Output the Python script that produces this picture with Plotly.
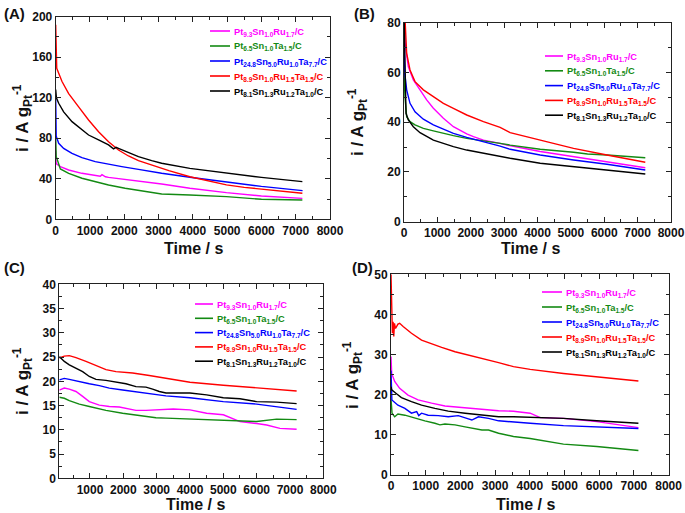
import plotly.graph_objects as go

# ---------------- data ----------------
NAMES = ["Pt<sub>9.3</sub>Sn<sub>1.0</sub>Ru<sub>1.7</sub>/C",
         "Pt<sub>6.5</sub>Sn<sub>1.0</sub>Ta<sub>1.5</sub>/C",
         "Pt<sub>24.8</sub>Sn<sub>5.0</sub>Ru<sub>1.0</sub>Ta<sub>7.7</sub>/C",
         "Pt<sub>8.9</sub>Sn<sub>1.0</sub>Ru<sub>1.5</sub>Ta<sub>1.5</sub>/C",
         "Pt<sub>8.1</sub>Sn<sub>1.3</sub>Ru<sub>1.2</sub>Ta<sub>1.0</sub>/C"]
COLORS = ["#ff00ff", "#138a13", "#0000ff", "#ff0000", "#000000"]
PANEL_LABELS = ["(A)", "(B)", "(C)", "(D)"]
X_TITLE = "Time / s"
Y_TITLE = "i / A g<sub>Pt</sub><sup>-1</sup>"

# Panel A
a_mag_t = [0, 15, 136, 378, 765, 1153, 1300, 1350, 1450, 1541, 2025, 2510, 3090, 3913, 4980, 6000, 7194]
a_mag_v = [68, 55, 52, 48.7, 45.4, 43.1, 42.5, 44, 42, 41.4, 39.5, 37.2, 34.9, 30.6, 26.3, 23, 20.7]
a_grn_t = [0, 15, 136, 378, 765, 1153, 1541, 2025, 2510, 3090, 3913, 4980, 6000, 7194]
a_grn_v = [82, 62, 49.7, 45.4, 40.5, 37.2, 33.9, 30.6, 27.8, 25, 24, 22.4, 19.8, 19.1]
a_blu_t = [0, 15, 87, 232, 475, 765, 1153, 1541, 1928, 2413, 3090, 3913, 5000, 6000, 7200]
a_blu_v = [119, 82, 75, 70, 65, 60.9, 56.9, 54.3, 52, 49.3, 45.4, 41.5, 36.5, 32.5, 28.3]
a_red_t = [0, 30, 184, 378, 669, 959, 1250, 1541, 1831, 2122, 2413, 2800, 3300, 3913, 4500, 4980, 5500, 6000, 6600, 7194]
a_red_v = [192, 149, 136, 124, 111, 98, 86.5, 76.6, 68.4, 62.5, 57.9, 53.6, 48, 42, 37.5, 34, 31.5, 29.6, 27.5, 25.7]
a_blk_t = [0, 20, 87, 232, 475, 765, 959, 1250, 1541, 1686, 1760, 1831, 2122, 2413, 2800, 3090, 3913, 4980, 6000, 7194]
a_blk_v = [128, 120, 114.5, 106, 96.4, 88, 83.2, 78.3, 73.4, 69.5, 71, 70, 65.8, 61.8, 57.9, 55.3, 50.3, 45.4, 41.4, 37.2]

# Panel B
b_mag_t = [0, 30, 130, 280, 480, 680, 880, 1180, 1480, 1880, 2080, 2380, 2880, 3080, 4080, 5080, 6080, 7230]
b_mag_v = [88, 72, 62.3, 57, 53, 49, 45.6, 41.6, 38.2, 35.3, 34.2, 32.8, 31.5, 30.8, 28.2, 26.1, 24.1, 21.7]
b_grn_t = [0, 30, 80, 180, 330, 580, 880, 1180, 1480, 1880, 2380, 2880, 3180, 4080, 5080, 5500, 6080, 6600, 7230]
b_grn_v = [60, 50, 42.2, 40.2, 38.9, 37.5, 36.5, 35.5, 34.6, 33.5, 32.6, 31.5, 30.8, 29.1, 27.9, 27.2, 26.8, 26.4, 25.7]
b_blu_t = [0, 20, 80, 180, 330, 580, 880, 1180, 1480, 1880, 2380, 2880, 3180, 4080, 5080, 6080, 7230]
b_blu_v = [75, 60, 53, 47.6, 44.2, 41.2, 38.9, 37.1, 35.5, 33.9, 32.2, 30.4, 29.1, 26.8, 24.8, 23.1, 20.8]
b_red_t = [0, 40, 80, 180, 330, 580, 880, 1180, 1480, 1880, 2380, 2880, 3180, 4030, 5080, 6080, 7230]
b_red_v = [90, 77, 67.7, 61, 56.3, 53, 50.3, 47.6, 45.6, 42.9, 40.2, 37.9, 35.8, 33.1, 29.5, 26.8, 23.9]
b_blk_t = [0, 60, 130, 280, 480, 680, 880, 1180, 1480, 1880, 2380, 2880, 3180, 4080, 5080, 6080, 7230]
b_blk_v = [85, 43.6, 40.9, 38.2, 35.8, 34.2, 32.8, 31.5, 30.2, 28.8, 27.5, 26.1, 25.5, 23.5, 22.1, 20.8, 19.2]

# Panel C
c_mag_t = [80, 230, 380, 580, 780, 980, 1280, 1580, 1880, 2080, 2380, 2680, 2980, 3280, 3500, 4000, 4500, 5000, 5300, 5500, 6000, 6300, 6700, 7200]
c_mag_v = [18.2, 18.6, 18.4, 17.9, 16.9, 15.8, 15.1, 14.8, 14.7, 14.4, 14.0, 14.0, 14.1, 14.2, 14.3, 14.1, 13.4, 13.1, 12.2, 11.7, 11.3, 11.0, 10.3, 10.1]
c_grn_t = [80, 230, 380, 680, 980, 1480, 1980, 2480, 2980, 3280, 4000, 5000, 6000, 6600, 7200]
c_grn_v = [16.7, 16.5, 16.0, 15.3, 14.8, 14.0, 13.4, 12.9, 12.5, 12.4, 12.2, 11.9, 11.7, 12.2, 12.1]
c_blu_t = [80, 230, 380, 680, 980, 1280, 1580, 1980, 2480, 2980, 3280, 4000, 5000, 6000, 7200]
c_blu_v = [20.3, 20.6, 20.4, 19.9, 19.5, 19.1, 18.6, 18.2, 17.7, 17.3, 17.0, 16.6, 15.8, 15.3, 14.2]
c_red_t = [80, 230, 380, 580, 880, 1180, 1480, 1780, 2280, 2780, 3280, 4000, 5000, 6000, 7200]
c_red_v = [24.8, 25.2, 25.3, 24.9, 24.1, 23.2, 22.4, 22.0, 21.7, 21.2, 20.6, 19.8, 19.2, 18.7, 18.0]
c_blk_t = [80, 230, 380, 580, 780, 980, 1180, 1480, 1780, 2080, 2380, 2680, 2880, 3080, 3280, 4000, 4500, 5000, 5500, 6000, 6600, 7200]
c_blk_v = [25.1, 24.1, 23.4, 22.7, 22.0, 21.0, 20.4, 20.2, 19.9, 19.5, 18.9, 18.8, 18.4, 17.9, 17.6, 17.6, 17.2, 16.6, 16.4, 15.8, 15.7, 15.4]

# Panel D
d_mag_t = [0, 20, 106, 250, 490, 780, 1170, 1555, 2040, 2520, 3100, 3530, 4010, 4300, 4970, 5930, 7130]
d_mag_v = [29.5, 25.3, 23.3, 21.6, 19.9, 18.7, 17.9, 17.2, 16.8, 16.4, 16.0, 15.9, 15.4, 14.3, 14.1, 13.3, 11.8]
d_grn_t = [0, 30, 106, 200, 400, 690, 975, 1265, 1410, 1555, 1845, 2135, 2425, 2620, 2810, 3100, 3530, 4010, 4970, 5930, 7130]
d_grn_v = [19, 15.4, 14.5, 15.2, 14.9, 14.1, 13.5, 12.9, 12.5, 12.7, 12.5, 12.0, 11.6, 11.2, 11.2, 10.4, 9.6, 9.1, 7.7, 7.1, 6.1]
d_blu_t = [0, 25, 200, 400, 590, 740, 800, 880, 1070, 1360, 1650, 1940, 2230, 2330, 2520, 2810, 3100, 3530, 4010, 4970, 5930, 6700, 7130]
d_blu_v = [26, 18.7, 17.4, 16.6, 15.4, 15.8, 14.8, 15.4, 14.9, 14.8, 14.5, 14.8, 14.0, 13.7, 14.5, 14.1, 13.5, 13.3, 12.9, 12.3, 12.0, 11.6, 11.6]
d_red_t = [0, 10, 20, 40, 60, 80, 100, 130, 200, 250, 350, 590, 880, 1170, 1460, 1845, 2330, 2810, 3100, 3530, 4010, 4970, 5930, 7130]
d_red_v = [50, 42, 38.6, 35.3, 38.2, 34.5, 37.8, 36.5, 37.6, 37.8, 37, 35.3, 33.6, 32.6, 31.8, 30.7, 29.7, 28.7, 28.0, 27, 26.3, 25.3, 24.5, 23.4]
d_blk_t = [0, 20, 150, 300, 590, 880, 1265, 1650, 2135, 2620, 3100, 3530, 4970, 5930, 7130]
d_blk_v = [22, 21.2, 20.3, 19.3, 18.3, 17.4, 16.6, 15.9, 15.4, 14.9, 14.5, 14.5, 14.1, 13.5, 12.9]

PANELS = [
    [(a_mag_t, a_mag_v), (a_grn_t, a_grn_v), (a_blu_t, a_blu_v), (a_red_t, a_red_v), (a_blk_t, a_blk_v)],
    [(b_mag_t, b_mag_v), (b_grn_t, b_grn_v), (b_blu_t, b_blu_v), (b_red_t, b_red_v), (b_blk_t, b_blk_v)],
    [(c_mag_t, c_mag_v), (c_grn_t, c_grn_v), (c_blu_t, c_blu_v), (c_red_t, c_red_v), (c_blk_t, c_blk_v)],
    [(d_mag_t, d_mag_v), (d_grn_t, d_grn_v), (d_blu_t, d_blu_v), (d_red_t, d_red_v), (d_blk_t, d_blk_v)],
]

# ---------------- layout (pixel positions) ----------------
W, H = 685, 513
X_PIX = [(55.7, 330), (404, 671), (59.3, 323.3), (391, 668.6)]
Y_PIX = [(219.3, 16.7), (221.7, 22.7), (478.3, 284.3), (475, 274.3)]
X_RANGE = [[0, 8000], [0, 8000], [80, 8000], [0, 8000]]
Y_RANGE = [[0, 200], [0, 80], [0, 40], [0, 50]]
Y_DTICK = [40, 20, 5, 10]
# legend: line start x, text start x, first row y, row step
LEG = [(210, 232, 31, 15), (545, 565, 56, 14.8), (195, 215, 304, 14.3), (542, 564, 292, 15)]
LABEL_POS = [(2, 3), (352, 3), (2, 257), (350, 257)]
XT_POS = [(193, 248), (530, 248), (195, 504), (525, 504)]
YT_POS = [(22, 118), (357, 122), (22, 381), (352, 375)]

FONT = "Liberation Sans, Arial, sans-serif"
px = lambda x: x / W
py = lambda y: 1 - y / H

fig = go.Figure()
for i, series in enumerate(PANELS):
    sfx = "" if i == 0 else str(i + 1)
    for (t, v), name, col in zip(series, NAMES, COLORS):
        fig.add_trace(go.Scatter(x=t, y=v, mode="lines", line=dict(color=col, width=1.4),
                                 name=name, showlegend=False,
                                 xaxis="x" + sfx, yaxis="y" + sfx))

    common = dict(showline=True, linecolor="#222", linewidth=1, mirror="allticks",
                  ticks="inside", ticklen=5, tickcolor="#222", showgrid=False, zeroline=False,
                  tickfont=dict(family=FONT, size=12, color="#111", weight="bold"),
                  automargin=False)
    fig.layout["xaxis" + sfx] = dict(
        common, domain=[px(X_PIX[i][0]), px(X_PIX[i][1])], range=X_RANGE[i],
        anchor="y" + sfx, dtick=1000, tick0=0,
        minor=dict(ticks="inside", ticklen=3, dtick=500, tick0=0, tickcolor="#222"))
    fig.layout["yaxis" + sfx] = dict(
        common, domain=[py(Y_PIX[i][0]), py(Y_PIX[i][1])], range=Y_RANGE[i],
        anchor="x" + sfx, dtick=Y_DTICK[i], tick0=0,
        minor=dict(ticks="inside", ticklen=3, dtick=Y_DTICK[i] / 2, tick0=0, tickcolor="#222"))

    # legend (lines + coloured labels)
    lx, tx, ry, step = LEG[i]
    for k, (name, col) in enumerate(zip(NAMES, COLORS)):
        yy = ry + k * step
        fig.add_shape(type="line", xref="paper", yref="paper", x0=px(lx), x1=px(tx - 2),
                      y0=py(yy), y1=py(yy), line=dict(color=col, width=1.6))
        fig.add_annotation(text=name, x=px(tx), y=py(yy + 1), xref="paper", yref="paper",
                           xanchor="left", yanchor="middle", showarrow=False,
                           font=dict(family=FONT, size=9.3, color=col, weight="bold"))

    # axis titles
    xx, xy = XT_POS[i]
    fig.add_annotation(text=X_TITLE, x=px(xx), y=py(xy), xref="paper", yref="paper",
                       xanchor="center", yanchor="middle", showarrow=False,
                       font=dict(family=FONT, size=16, color="#111", weight="bold"))
    yx, yy_ = YT_POS[i]
    fig.add_annotation(text=Y_TITLE, x=px(yx), y=py(yy_), xref="paper", yref="paper",
                       xanchor="center", yanchor="middle", showarrow=False, textangle=-90,
                       font=dict(family=FONT, size=17, color="#111", weight="bold"))
    # panel label
    lbx, lby = LABEL_POS[i]
    fig.add_annotation(text=PANEL_LABELS[i], x=px(lbx), y=py(lby), xref="paper", yref="paper",
                       xanchor="left", yanchor="top", showarrow=False,
                       font=dict(family=FONT, size=15, color="#111", weight="bold"))

fig.update_layout(width=W, height=H, margin=dict(l=0, r=0, t=0, b=0),
                  paper_bgcolor="white", plot_bgcolor="white", showlegend=False)
fig.write_html("out.html", config={"displayModeBar": False},
               post_script="document.body.style.margin='0';document.body.style.padding='0';"
                           "document.documentElement.style.overflow='hidden';")
